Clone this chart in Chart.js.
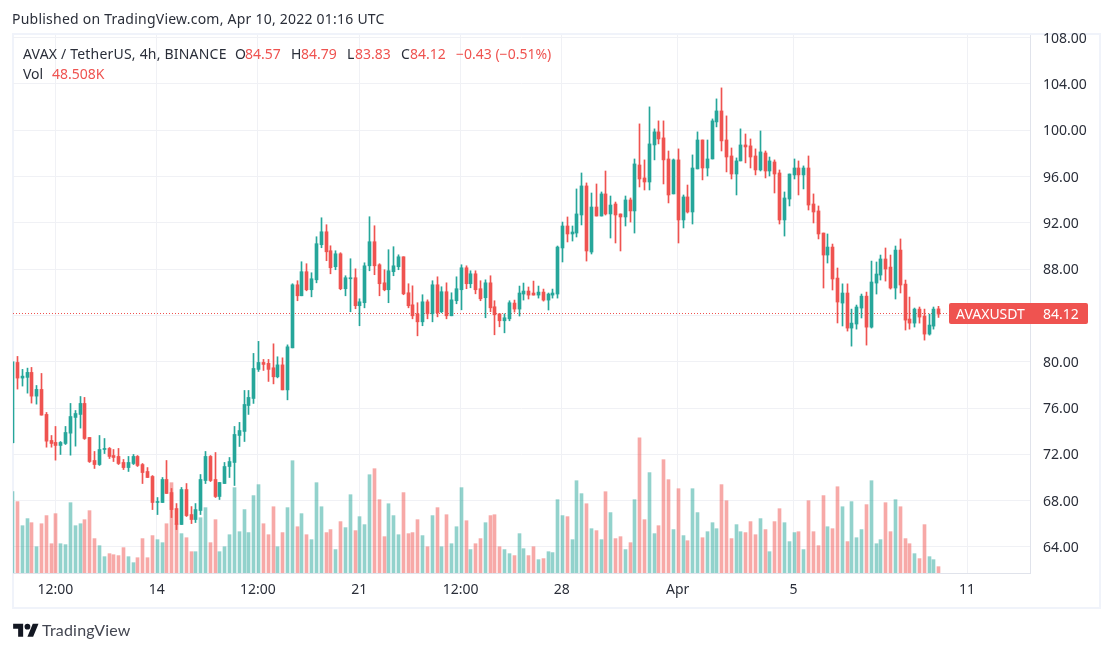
<!DOCTYPE html>
<html><head><meta charset="utf-8"><title>AVAX / TetherUS</title>
<style>
html,body{margin:0;padding:0;background:#fff;width:1113px;height:652px;overflow:hidden}
body{position:relative;font-family:"Noto Sans",sans-serif;color:#2a2e39}
#frame{position:absolute;left:12px;top:33px;width:1085px;height:572px;border:2px solid #f0f3fa}
canvas{position:absolute;left:0;top:0}
.t{position:absolute;white-space:pre;font-size:14px;line-height:18px}
.r{color:#ef5350}
#logo{position:absolute;left:13px;top:621px}
</style></head><body>
<div id="frame"></div>
<canvas id="c" width="1113" height="652"></canvas>
<div class="t" style="left:12px;top:10px;letter-spacing:.23px">Published on TradingView.com, Apr 10, 2022 01:16 UTC</div>
<div class="t" style="left:23px;top:45px;letter-spacing:.2px">AVAX / TetherUS, 4h, BINANCE</div>
<div class="t" style="left:235px;top:45px">O</div><div class="t r" style="left:245px;top:45px">84.57</div>
<div class="t" style="left:291px;top:45px">H</div><div class="t r" style="left:301px;top:45px">84.79</div>
<div class="t" style="left:347px;top:45px">L</div><div class="t r" style="left:355px;top:45px">83.83</div>
<div class="t" style="left:401px;top:45px">C</div><div class="t r" style="left:410px;top:45px">84.12</div>
<div class="t r" style="left:456px;top:45px">−0.43 (−0.51%)</div>
<div class="t" style="left:23px;top:65px">Vol</div><div class="t r" style="left:52px;top:65px">48.508K</div>
<svg id="logo" width="26" height="20" viewBox="0 0 36 28"><path fill="#131722" d="M14 22H7V11H0V4h14v18zM28 22h-8l7.5-18h8L28 22z"/><circle fill="#131722" cx="20" cy="8" r="4"/></svg>
<div class="t" style="left:42px;top:621px;font-family:Lato,sans-serif;font-size:16px;letter-spacing:.2px;color:#434651">TradingView</div>
<script src="https://cdn.jsdelivr.net/npm/chart.js@4"></script>
<script>
const opens=[73,79.94,78.59,78.65,79.08,77.03,77.61,75.45,73.20,73.03,
72.77,72.94,73.83,75.19,75.45,76.40,73.46,71.47,71.12,72.42,
72.51,71.90,71.82,71.30,70.86,71.21,71.82,71.12,70.52,70.09,
67.84,67.84,69.83,68.70,67.32,65.94,68.96,66.80,66.37,67.15,
69.74,71.82,69.83,68.36,69.48,70.95,71.30,73.63,73.98,76.22,
76.83,79.34,79.94,79.86,79.48,78.70,79.73,77.57,81.20,86.65,
85.70,87.78,86.22,87.08,90.11,91.23,89.59,88.21,89.33,86.31,
87.17,87.26,84.84,85.10,88.29,90.37,88.38,86.82,86.22,87.78,
88.21,89.07,85.96,84.92,84.14,83.45,85.18,84.14,86.65,84.32,
86.05,83.97,85.27,86.22,88.12,86.74,87.60,86.31,85.53,86.82,
84.75,84.14,83.54,83.71,85.07,84.55,85.85,86.11,85.94,85.76,
86.02,85.33,85.76,85.85,89.83,91.73,91.04,91.12,92.68,95.19,
89.48,93.37,92.59,94.50,92.77,93.63,92.77,92.51,93.98,93.03,
97.00,95.88,95.53,98.73,99.86,99.34,97.52,94.50,97.44,92.25,
94.24,92.94,96.66,99.16,96.74,97.52,100.72,101.67,99.16,97.78,
96.22,97.35,98.73,98.65,97.78,96.57,98.04,96.48,97.26,96.31,
92.25,94.06,96.14,96.74,96.14,96.74,93.63,93.03,91.12,89.22,
89.91,87.23,85.07,85.94,82.91,83.26,84.64,85.67,82.99,86.80,
87.49,88.88,88.18,86.37,89.65,86.71,83.69,83.34,84.55,83.95,
82.39,83.08,84.57];
const highs=[80.0,80.46,79.34,79.45,79.51,77.95,78.99,75.62,73.63,74.41,
73.11,74.41,76.40,75.79,77.00,76.92,73.46,72.25,73.63,73.37,
72.59,72.42,72.51,71.56,71.82,71.99,71.90,71.21,70.86,70.17,
68.27,70.00,71.47,69.05,67.75,69.14,69.48,67.49,67.75,70.26,
72.25,71.90,72.16,69.57,71.30,71.73,74.41,74.76,77.52,77.52,
80.72,81.76,80.20,80.20,81.55,80.43,80.34,81.46,86.74,87.00,
88.64,88.47,87.69,90.80,92.44,91.84,90.02,89.59,89.42,87.43,
88.90,88.03,85.44,88.55,92.53,91.75,88.47,87.95,89.68,89.94,
89.24,89.07,86.74,86.56,85.10,85.79,85.35,87.00,87.34,86.48,
86.82,85.96,87.34,88.38,88.29,87.86,87.86,87.00,87.08,87.43,
85.27,84.14,84.14,85.27,85.33,86.54,86.80,86.46,86.97,86.54,
86.28,85.94,86.28,90.00,92.07,92.51,91.73,94.93,96.31,95.45,
94.58,95.36,94.67,96.48,94.32,93.80,92.77,94.32,94.15,97.52,
100.55,97.44,102.02,100.12,100.81,100.81,98.21,97.52,98.39,94.41,
95.27,97.87,99.86,99.16,99.16,100.98,102.71,103.66,101.24,98.47,
97.61,100.12,99.68,99.25,98.39,99.94,98.21,97.69,97.44,96.57,
94.67,96.22,97.52,97.35,96.92,97.78,94.50,93.46,91.12,91.04,
90.17,88.10,86.73,86.73,84.55,84.90,85.85,86.02,88.70,88.62,
89.22,89.83,89.22,90.00,90.61,87.06,85.59,84.64,84.73,84.55,
84.12,84.73,84.79];
const lows=[72.97,77.64,77.90,77.29,76.43,76.34,75.39,72.62,72.62,71.50,
71.99,72.85,71.93,72.71,74.27,73.29,71.30,70.78,71.04,72.07,
71.64,71.38,71.12,70.69,70.52,71.12,70.95,69.48,70.00,67.23,
66.80,67.84,68.62,66.54,65.50,65.94,66.63,66.02,66.11,66.80,
69.48,69.65,68.27,68.10,69.48,70.00,69.31,72.68,73.11,75.45,
76.40,79.16,79.25,78.30,78.09,78.61,77.57,76.71,81.20,85.27,
85.70,86.13,85.61,86.82,89.85,88.73,87.60,87.95,86.22,85.70,
84.32,84.58,83.11,84.66,87.86,87.52,85.70,86.13,85.10,87.43,
87.95,85.79,84.66,83.71,82.24,83.11,83.71,83.45,83.88,84.23,
83.71,83.97,85.01,84.49,86.31,86.39,85.87,85.27,83.80,84.32,
82.33,83.02,82.50,83.54,84.29,83.95,85.33,85.42,85.76,85.50,
85.24,84.47,85.50,85.50,88.62,90.35,90.43,90.78,91.82,88.70,
89.31,92.59,92.59,92.68,90.69,90.26,89.57,91.73,92.07,91.12,
95.10,94.84,94.84,97.44,98.82,95.36,93.72,94.50,90.26,91.56,
92.85,91.90,96.66,95.71,96.05,97.52,100.29,98.21,96.40,95.79,
94.41,97.35,97.18,96.74,96.14,96.48,95.88,96.05,94.58,91.90,
90.86,93.46,95.79,94.41,94.93,93.11,91.99,90.61,86.37,88.53,
86.20,83.35,83.09,82.65,81.35,82.82,83.78,81.44,82.91,85.85,
87.06,86.97,86.28,85.42,85.94,82.74,82.82,83.00,83.34,81.87,
82.30,82.82,83.83];
const closes=[80,78.59,78.76,79.08,77.03,77.61,75.39,73.14,72.94,72.77,
73.03,73.89,75.27,75.53,76.40,73.37,71.38,71.12,72.42,72.51,
71.82,71.73,71.21,70.86,71.30,71.82,71.04,70.43,70.00,67.84,
67.93,69.83,68.62,67.23,65.94,68.96,66.71,66.37,67.23,69.83,
71.82,69.74,68.36,69.57,70.95,71.38,73.72,74.06,76.31,76.92,
79.42,79.94,79.77,79.34,78.70,79.73,77.57,81.29,86.65,85.70,
87.78,86.22,87.17,90.20,91.23,89.50,88.12,89.33,86.31,87.26,
87.26,84.84,85.18,88.29,90.37,88.29,86.74,86.22,87.86,88.29,
89.07,85.87,84.84,83.97,83.45,85.18,84.14,86.65,84.23,86.05,
83.97,85.35,86.31,88.12,86.74,87.60,86.22,85.44,86.82,84.66,
84.06,83.54,83.80,85.10,84.55,85.94,86.11,85.76,85.76,86.02,
85.33,85.85,85.94,89.91,91.73,91.04,91.21,92.77,95.19,89.57,
93.37,92.59,94.50,92.77,93.54,92.68,92.51,93.98,93.03,97.09,
95.79,95.53,98.82,99.86,99.25,97.44,94.41,97.44,92.25,94.24,
92.94,96.74,99.16,96.74,97.52,100.81,101.67,99.08,97.69,96.22,
97.35,98.73,98.56,97.69,96.57,98.13,96.48,97.35,96.22,92.25,
94.15,96.22,96.74,96.14,96.74,93.54,92.94,91.04,89.22,89.91,
87.15,85.16,85.94,82.91,83.34,84.73,85.67,82.99,86.89,87.58,
88.88,88.01,86.37,89.65,86.63,83.60,83.34,84.55,83.86,82.39,
83.17,84.55,84.12];
const volumes=[622,546,362,416,385,201,377,439,224,454,
224,217,538,362,377,408,477,263,209,125,
148,140,133,194,125,79,117,263,117,286,
255,232,377,691,377,301,270,163,163,423,
500,232,408,163,201,293,653,316,485,309,
592,676,377,293,507,201,309,500,859,354,
454,293,255,691,507,309,332,179,393,347,
599,324,431,370,752,798,561,278,530,439,
293,615,301,309,408,286,201,439,500,201,
446,224,354,653,400,179,224,263,385,439,
446,201,179,148,133,301,186,133,201,102,
110,163,156,561,439,431,255,706,607,530,
339,324,255,622,462,263,278,179,232,561,
1035,408,768,301,362,867,714,332,645,286,
247,645,462,270,316,385,339,676,553,263,
370,316,309,393,293,416,332,163,393,492,
385,240,309,316,179,553,316,209,592,354,
339,660,507,240,546,270,332,523,706,224,
255,538,316,561,507,263,224,148,110,370,
125,102,48.508];
const priceTicks=[64,68,72,76,80,84,88,92,96,100,104,108];
const timeTickBars=[9,30,51,72,93,114,138,162,198];
const timeTickLabels=["12:00","14","12:00","21","12:00","28","Apr","5","11"];
const symbolName="AVAXUSDT";

const UP="#26a69a",DOWN="#ef5350",UPV="rgba(38,166,154,.5)",DOWNV="rgba(239,83,80,.5)",GRID="#f0f1f5",AXIS="#e0e3eb",TXT="#2a2e39";
const FONT='"Noto Sans",sans-serif';
const isUp=i=>closes[i]>=opens[i];
const bars=closes.map((_,i)=>i);
const lastClose=closes[closes.length-1];

const snap={id:"snap",afterDatasetsUpdate(ch){
  ch.getSortedVisibleDatasetMetas().forEach(m=>m.data.forEach(el=>{el.x=Math.floor(el.x+0.63)+0.5;}));
}};
const nudgeLabels={id:"nudgeLabels",beforeDraw(ch){
  const s=ch.scales.y;
  s._labelItems=s._computeLabelItems(ch.chartArea);
  s._labelItems.forEach(it=>{it.options.translation[1]+=1;});
}};
const priceLine={id:"priceLine",
  beforeDatasetsDraw(ch){
    const y=Math.round(ch.scales.y.getPixelForValue(lastClose))-0.5,a=ch.chartArea,g=ch.ctx;
    g.save();g.strokeStyle=DOWN;g.lineWidth=1;g.setLineDash([1,2]);
    g.beginPath();g.moveTo(a.left,y);g.lineTo(a.right,y);g.stroke();g.restore();
  },
  afterDraw(ch){
    const y=Math.round(ch.scales.y.getPixelForValue(lastClose)),g=ch.ctx;
    g.save();g.fillStyle=DOWN;g.beginPath();g.roundRect(949,y-11,139,21,2);g.fill();
    g.fillStyle="#fff";g.font="14px "+FONT;g.textBaseline="middle";g.textAlign="left";
    g.fillText(symbolName,956,y+1);g.fillText(lastClose.toFixed(2),1043,y+1);g.restore();
  }};

new Chart(document.getElementById("c"),{
  type:"bar",
  data:{datasets:[
    {label:"Volume",yAxisID:"v",order:3,grouped:false,barThickness:3,minBarLength:1,
     data:bars.map(i=>({x:i,y:volumes[i]})),backgroundColor:bars.map(i=>isUp(i)?UPV:DOWNV)},
    {label:"Wick",yAxisID:"y",order:2,grouped:false,barThickness:1,
     data:bars.map(i=>({x:i,y:[lows[i],highs[i]]})),backgroundColor:bars.map(i=>isUp(i)?UP:DOWN)},
    {label:"Body",yAxisID:"y",order:1,grouped:false,barThickness:3,minBarLength:1,
     data:bars.map(i=>({x:i,y:[opens[i],closes[i]]})),backgroundColor:bars.map(i=>isUp(i)?UP:DOWN)}
  ]},
  plugins:[snap,nudgeLabels,priceLine],
  options:{
    responsive:false,animation:false,devicePixelRatio:1,
    layout:{padding:{left:13,top:35,right:13,bottom:45}},
    plugins:{legend:{display:false},tooltip:{enabled:false},title:{display:false}},
    scales:{
      x:{type:"linear",offset:false,min:0.224,max:211.04,
        afterBuildTicks(s){s.ticks=timeTickBars.map(v=>({value:v}));},
        afterFit(s){s.height=34;},
        grid:{color:GRID,drawTicks:false,offset:false},border:{color:AXIS},
        ticks:{autoSkip:false,maxRotation:0,padding:9,color:TXT,font:{family:FONT,size:14},
          callback:v=>timeTickLabels[timeTickBars.indexOf(v)]}},
      y:{type:"linear",position:"right",min:61.75,max:108.23,
        afterBuildTicks(s){s.ticks=priceTicks.map(v=>({value:v}));},
        afterFit(s){s.width=70;},
        grid:{color:GRID,drawTicks:false},border:{color:AXIS},
        ticks:{padding:13,align:"center",color:TXT,font:{family:FONT,size:14},
          callback:v=>v.toFixed(2)}},
      v:{type:"linear",display:false,min:0,max:4116}
    }
  }
});
</script>
</body></html>
